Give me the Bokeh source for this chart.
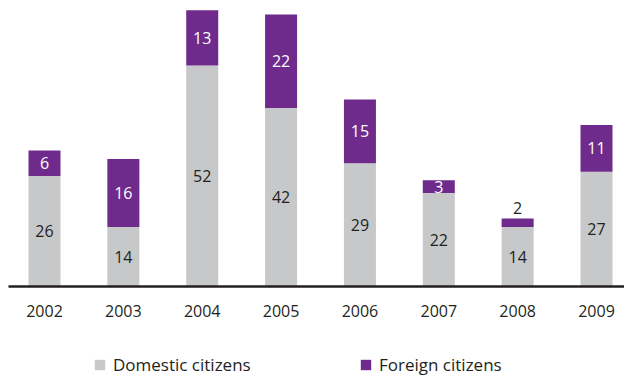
from bokeh.plotting import figure
from bokeh.layouts import column
from bokeh.models import ColumnDataSource, Range1d, FixedTicker, Legend, LegendItem
from bokeh.core.properties import value
from bokeh.embed import file_html
from bokeh.resources import INLINE

years = [2002, 2003, 2004, 2005, 2006, 2007, 2008, 2009]
domestic = [26, 14, 52, 42, 29, 22, 14, 27]
foreign = [6, 16, 13, 22, 15, 3, 2, 11]
series_names = ["Domestic citizens", "Foreign citizens"]

GRAY = "#c7c8ca"
PURPLE = "#6f2b8b"
DARK = "#231f20"
FONT = "Open Sans"

src = ColumnDataSource(dict(
    x=years,
    domestic=domestic,
    foreign=foreign,
    dom_mid=[d / 2 for d in domestic],
    for_mid=[d + f / 2 for d, f in zip(domestic, foreign)],
    dom_lbl=[str(d) for d in domestic],
    for_lbl=[str(f) for f in foreign],
))
small = [i for i, f in enumerate(foreign) if f < 3]
big = [i for i, f in enumerate(foreign) if f >= 3]
src_big = ColumnDataSource({k: [v[i] for i in big] for k, v in src.data.items()})
src_small = ColumnDataSource({k: [v[i] for i in small] for k, v in src.data.items()})
src_small.data["top"] = [domestic[i] + foreign[i] for i in small]

p = figure(width=624, height=336, output_backend="svg", toolbar_location=None,
           x_range=Range1d(2001.5435, 2009.355), y_range=Range1d(0, 67.3),
           min_border_left=8, min_border_right=0, min_border_top=0, min_border_bottom=50)
p.outline_line_color = None
p.grid.visible = False
p.yaxis.visible = False

r = p.vbar_stack(["domestic", "foreign"], x="x", width=0.406, color=[GRAY, PURPLE],
                 line_color=None, source=src)

p.text(x="x", y="dom_mid", text="dom_lbl", source=src, text_align="center",
       text_baseline="middle", text_color=DARK, text_font=value(FONT), text_font_size="16px")
p.text(x="x", y="for_mid", text="for_lbl", source=src_big, text_align="center",
       text_baseline="middle", text_color="white", text_font=value(FONT), text_font_size="16px")
p.text(x="x", y="top", text="for_lbl", source=src_small, text_align="center",
       text_baseline="bottom", y_offset=-5, text_color=DARK, text_font=value(FONT),
       text_font_size="16px")

ax = p.xaxis[0]
ax.ticker = FixedTicker(ticks=years)
ax.major_tick_line_color = None
ax.minor_tick_line_color = None
ax.axis_line_color = DARK
ax.axis_line_width = 2.5
ax.major_label_text_font = FONT
ax.major_label_text_font_size = "16px"
ax.major_label_text_color = DARK
ax.major_label_standoff = 12

# legend strip
p2 = figure(width=624, height=40, output_backend="svg", toolbar_location=None,
            x_range=Range1d(0, 1), y_range=Range1d(0, 1),
            min_border=0)
p2.outline_line_color = None
p2.grid.visible = False
p2.axis.visible = False
offscreen = ColumnDataSource(dict(x=[5], top=[5]))
d1 = p2.vbar(x="x", top="top", width=0.1, color=GRAY, line_color=None, source=offscreen)
d2 = p2.vbar(x="x", top="top", width=0.1, color=PURPLE, line_color=None, source=offscreen)

legend = Legend(items=[LegendItem(label=series_names[0], renderers=[d1]),
                       LegendItem(label=series_names[1], renderers=[d2])],
                orientation="horizontal", location=(85, 0),
                glyph_width=13, glyph_height=13, label_standoff=7, label_width=240,
                label_height=20, spacing=6, padding=0, margin=0, border_line_color=None,
                background_fill_alpha=0, label_text_font=FONT,
                label_text_font_size="17px", label_text_color=DARK)
p2.add_layout(legend, "center")

open("out.html", "w").write(file_html(column(p, p2, spacing=0), INLINE))
